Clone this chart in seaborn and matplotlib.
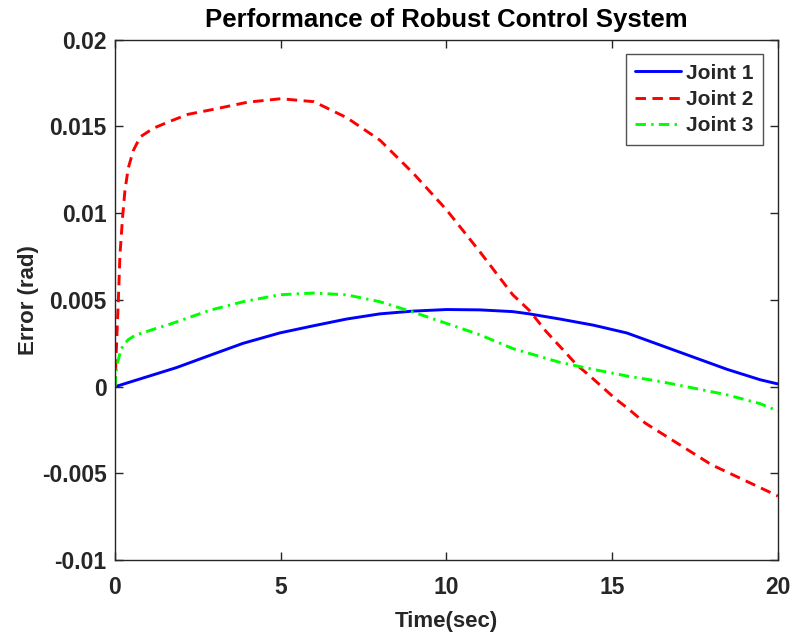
import matplotlib
matplotlib.use("Agg")
import matplotlib.pyplot as plt
import seaborn as sns
import pandas as pd

# ---- data ----
t_joint1 = [0, 0.84, 1.85, 2.85, 3.86, 4.97, 5.98, 6.98, 7.99, 9, 10, 11, 12,
            12.5, 13.43, 14.43, 15.44, 16.45, 17.46, 18.47, 19.47, 20]
e_joint1 = [0, 0.0005, 0.0011, 0.0018, 0.0025, 0.0031, 0.00351, 0.0039, 0.0042,
            0.00436, 0.00445, 0.00443, 0.00433, 0.0042, 0.0039, 0.00355, 0.0031,
            0.0024, 0.0017, 0.0010, 0.0004, 0.00016]

t_joint2 = [0, 0.05, 0.1, 0.15, 0.23, 0.3, 0.4, 0.55, 0.76, 1.16, 1.66, 2.2, 3,
            4, 5, 6, 7, 8, 9, 10, 11, 12, 12.5, 13, 13.53, 13.93, 14.34, 14.69,
            15.1, 15.44, 16, 17, 18, 19, 20]
e_joint2 = [0, 0.0026, 0.0049, 0.0076, 0.0098, 0.0113, 0.0126, 0.0136, 0.0144,
            0.0149, 0.0153, 0.0157, 0.0160, 0.0164, 0.0166, 0.01643, 0.0155,
            0.0142, 0.0123, 0.0102, 0.0078, 0.0053, 0.0044, 0.0032, 0.0021,
            0.00126, 0.0006, 0.0, -0.0007, -0.0012, -0.0021, -0.0033, -0.0045,
            -0.0054, -0.0063]

t_joint3 = [0, 0.05, 0.19, 0.39, 0.64, 0.84, 1.14, 1.65, 2.25, 2.85, 3.86, 4.97,
            5.98, 6.98, 7.99, 9, 10, 11, 12, 13.43, 14.43, 15.44, 16.45, 17.46,
            18.47, 19.47, 20]
e_joint3 = [0, 0.0012, 0.0022, 0.0027, 0.0030, 0.0031, 0.0033, 0.0036, 0.0040,
            0.0044, 0.0049, 0.0053, 0.0054, 0.0053, 0.0049, 0.0043, 0.00365,
            0.0030, 0.0022, 0.0014, 0.0010, 0.00062, 0.0003, -0.00008, -0.00047,
            -0.00098, -0.0014]

series_names = ["Joint 1", "Joint 2", "Joint 3"]
x_ticks = [0, 5, 10, 15, 20]
y_ticks = [-0.01, -0.005, 0, 0.005, 0.01, 0.015, 0.02]
y_tick_labels = ["-0.01", "-0.005", "0", "0.005", "0.01", "0.015", "0.02"]

sns.set_theme(style="white")
plt.rcParams["font.family"] = ["Liberation Sans", "DejaVu Sans"]
plt.rcParams["font.weight"] = "bold"

fig = plt.figure(figsize=(7.93, 6.41), dpi=100)
ax = fig.add_axes([0.145, 0.126, 0.836, 0.812])

df1 = pd.DataFrame({"t": t_joint1, "e": e_joint1})
df2 = pd.DataFrame({"t": t_joint2, "e": e_joint2})
df3 = pd.DataFrame({"t": t_joint3, "e": e_joint3})

sns.lineplot(data=df1, x="t", y="e", ax=ax, color="#0000ff", lw=2.1,
             label=series_names[0], sort=False)
sns.lineplot(data=df2, x="t", y="e", ax=ax, color="#ff0000", lw=2.1,
             label=series_names[1], sort=False)
sns.lineplot(data=df3, x="t", y="e", ax=ax, color="#00ff00", lw=2.1,
             label=series_names[2], sort=False)
lines = ax.get_lines()
lines[1].set_dashes([3.6, 2.2])
lines[2].set_dashes([3.6, 1.8, 0.8, 1.8])

ax.set_xlim(0, 20)
ax.set_ylim(-0.01, 0.02)
ax.set_xticks(x_ticks)
ax.set_xticklabels([str(v) for v in x_ticks])
ax.set_yticks(y_ticks)
ax.set_yticklabels(y_tick_labels)

for s in ax.spines.values():
    s.set_visible(True)
    s.set_color("#262626")
    s.set_linewidth(1.0)

ax.tick_params(axis="both", which="both", direction="in", length=6, width=1,
               top=True, right=True, bottom=True, left=True,
               labelsize=16.5, colors="#262626")
ax.tick_params(axis="x", pad=11)
ax.tick_params(axis="y", pad=6)
for lab in ax.get_xticklabels() + ax.get_yticklabels():
    lab.set_fontweight("bold")

ax.set_xlabel("Time(sec)", fontsize=16, fontweight="bold", color="#262626", labelpad=9)
ax.set_ylabel("Error (rad)", fontsize=16, fontweight="bold", color="#262626", labelpad=2)
ax.set_title("Performance of Robust Control System", fontsize=18.5,
             fontweight="bold", color="black", pad=9)

leg = ax.legend(loc="upper right", fontsize=15, frameon=True, fancybox=False,
                edgecolor="#262626", handlelength=2.2, borderpad=0.45,
                labelspacing=0.35, handletextpad=0.25, borderaxespad=0.7)
leg.get_frame().set_linewidth(1.0)
for txt in leg.get_texts():
    txt.set_fontweight("bold")

ax.grid(False)
fig.savefig("out.png", dpi=100, facecolor="white")
